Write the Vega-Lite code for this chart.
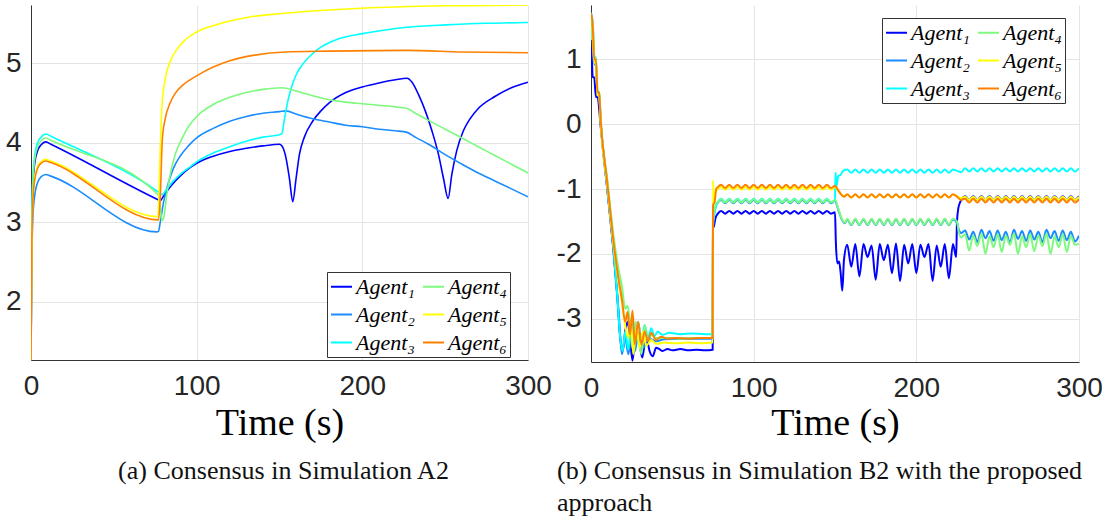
{
"$schema":"https://vega.github.io/schema/vega-lite/v6.json",
"background":"white",
"padding":{"left":5,"top":5,"right":5,"bottom":5},
"config":{
"view":{"stroke":null},
"axis":{"labelFont":"Liberation Sans","labelFontSize":28,"labelColor":"#262626","domainColor":"#333333","domainWidth":1,"gridColor":"#e4e4e4","gridWidth":1,"ticks":false,"titleFont":"Liberation Serif","titleFontSize":38,"titleFontWeight":"normal","titleColor":"#000000"},
"title":{"font":"Liberation Serif","fontSize":26,"fontWeight":"normal","color":"#111111"}
},
"datasets":{
"A":[
{"a":1,"t":0,"v":1.27},{"a":1,"t":0.5,"v":2.9},{"a":1,"t":1,"v":3.4},{"a":1,"t":2,"v":3.7},{"a":1,"t":4,"v":3.9},{"a":1,"t":6,"v":3.97},{"a":1,"t":9,"v":4.01},{"a":1,"t":12,"v":3.98},{"a":1,"t":77,"v":3.28},{"a":1,"t":78,"v":3.27},{"a":1,"t":80,"v":3.33},{"a":1,"t":85,"v":3.47},{"a":1,"t":90,"v":3.58},{"a":1,"t":95,"v":3.67},{"a":1,"t":100,"v":3.74},{"a":1,"t":110,"v":3.83},{"a":1,"t":120,"v":3.89},{"a":1,"t":130,"v":3.93},{"a":1,"t":140,"v":3.96},{"a":1,"t":150,"v":3.98},{"a":1,"t":152,"v":3.94},{"a":1,"t":154,"v":3.8},{"a":1,"t":156,"v":3.55},{"a":1,"t":158,"v":3.26},{"a":1,"t":160,"v":3.55},{"a":1,"t":162,"v":3.85},{"a":1,"t":165,"v":4.07},{"a":1,"t":170,"v":4.27},{"a":1,"t":175,"v":4.4},{"a":1,"t":180,"v":4.5},{"a":1,"t":190,"v":4.63},{"a":1,"t":200,"v":4.7},{"a":1,"t":210,"v":4.75},{"a":1,"t":220,"v":4.79},{"a":1,"t":227,"v":4.81},{"a":1,"t":230,"v":4.76},{"a":1,"t":234,"v":4.6},{"a":1,"t":238,"v":4.4},{"a":1,"t":242,"v":4.15},{"a":1,"t":246,"v":3.85},{"a":1,"t":249,"v":3.55},{"a":1,"t":251.8,"v":3.3},{"a":1,"t":254,"v":3.6},{"a":1,"t":257,"v":3.9},{"a":1,"t":261,"v":4.15},{"a":1,"t":265,"v":4.3},{"a":1,"t":270,"v":4.43},{"a":1,"t":280,"v":4.58},{"a":1,"t":290,"v":4.69},{"a":1,"t":300,"v":4.76},
{"a":2,"t":0,"v":1.27},{"a":2,"t":0.5,"v":2.5},{"a":2,"t":1,"v":3.0},{"a":2,"t":2,"v":3.3},{"a":2,"t":4,"v":3.5},{"a":2,"t":6,"v":3.57},{"a":2,"t":9,"v":3.6},{"a":2,"t":12,"v":3.58},{"a":2,"t":76,"v":2.88},{"a":2,"t":77,"v":2.89},{"a":2,"t":78,"v":3.0},{"a":2,"t":80,"v":3.25},{"a":2,"t":83,"v":3.5},{"a":2,"t":86,"v":3.68},{"a":2,"t":90,"v":3.83},{"a":2,"t":95,"v":3.96},{"a":2,"t":100,"v":4.06},{"a":2,"t":110,"v":4.18},{"a":2,"t":120,"v":4.27},{"a":2,"t":130,"v":4.33},{"a":2,"t":140,"v":4.37},{"a":2,"t":150,"v":4.39},{"a":2,"t":154,"v":4.4},{"a":2,"t":160,"v":4.36},{"a":2,"t":170,"v":4.3},{"a":2,"t":180,"v":4.26},{"a":2,"t":190,"v":4.22},{"a":2,"t":200,"v":4.2},{"a":2,"t":210,"v":4.17},{"a":2,"t":220,"v":4.15},{"a":2,"t":227,"v":4.13},{"a":2,"t":232,"v":4.07},{"a":2,"t":240,"v":3.98},{"a":2,"t":250,"v":3.85},{"a":2,"t":261,"v":3.72},{"a":2,"t":270,"v":3.62},{"a":2,"t":280,"v":3.52},{"a":2,"t":290,"v":3.42},{"a":2,"t":300,"v":3.32},
{"a":3,"t":0,"v":1.27},{"a":3,"t":0.5,"v":3.0},{"a":3,"t":1,"v":3.5},{"a":3,"t":2,"v":3.8},{"a":3,"t":4,"v":4.0},{"a":3,"t":6,"v":4.07},{"a":3,"t":9,"v":4.11},{"a":3,"t":12,"v":4.08},{"a":3,"t":77,"v":3.38},{"a":3,"t":79,"v":3.35},{"a":3,"t":82,"v":3.42},{"a":3,"t":86,"v":3.52},{"a":3,"t":90,"v":3.6},{"a":3,"t":95,"v":3.68},{"a":3,"t":100,"v":3.76},{"a":3,"t":110,"v":3.87},{"a":3,"t":120,"v":3.95},{"a":3,"t":132,"v":4.03},{"a":3,"t":140,"v":4.07},{"a":3,"t":150,"v":4.1},{"a":3,"t":151.5,"v":4.12},{"a":3,"t":153,"v":4.3},{"a":3,"t":155,"v":4.52},{"a":3,"t":157,"v":4.68},{"a":3,"t":160,"v":4.85},{"a":3,"t":164.5,"v":5.0},{"a":3,"t":170,"v":5.12},{"a":3,"t":175,"v":5.2},{"a":3,"t":185,"v":5.3},{"a":3,"t":200,"v":5.37},{"a":3,"t":215,"v":5.42},{"a":3,"t":227,"v":5.45},{"a":3,"t":250,"v":5.48},{"a":3,"t":275,"v":5.5},{"a":3,"t":300,"v":5.51},
{"a":4,"t":0,"v":1.27},{"a":4,"t":0.5,"v":2.9},{"a":4,"t":1,"v":3.45},{"a":4,"t":2,"v":3.75},{"a":4,"t":4,"v":3.95},{"a":4,"t":6,"v":4.02},{"a":4,"t":9,"v":4.06},{"a":4,"t":12,"v":4.03},{"a":4,"t":77,"v":3.34},{"a":4,"t":78,"v":3.2},{"a":4,"t":79,"v":3.02},{"a":4,"t":80,"v":3.05},{"a":4,"t":82,"v":3.35},{"a":4,"t":84,"v":3.6},{"a":4,"t":87,"v":3.85},{"a":4,"t":90,"v":4.0},{"a":4,"t":95,"v":4.2},{"a":4,"t":100,"v":4.33},{"a":4,"t":110,"v":4.48},{"a":4,"t":120,"v":4.57},{"a":4,"t":130,"v":4.63},{"a":4,"t":140,"v":4.67},{"a":4,"t":151.5,"v":4.69},{"a":4,"t":160,"v":4.65},{"a":4,"t":170,"v":4.59},{"a":4,"t":180,"v":4.54},{"a":4,"t":190,"v":4.51},{"a":4,"t":200,"v":4.49},{"a":4,"t":210,"v":4.47},{"a":4,"t":220,"v":4.45},{"a":4,"t":227,"v":4.43},{"a":4,"t":232,"v":4.37},{"a":4,"t":240,"v":4.28},{"a":4,"t":250,"v":4.17},{"a":4,"t":261,"v":4.05},{"a":4,"t":270,"v":3.95},{"a":4,"t":280,"v":3.84},{"a":4,"t":290,"v":3.73},{"a":4,"t":300,"v":3.62},
{"a":5,"t":0,"v":1.27},{"a":5,"t":0.5,"v":2.7},{"a":5,"t":1,"v":3.2},{"a":5,"t":2,"v":3.5},{"a":5,"t":4,"v":3.7},{"a":5,"t":6,"v":3.76},{"a":5,"t":9,"v":3.79},{"a":5,"t":12,"v":3.77},{"a":5,"t":76.5,"v":3.07},{"a":5,"t":77,"v":3.2},{"a":5,"t":78,"v":3.9},{"a":5,"t":79,"v":4.45},{"a":5,"t":81,"v":4.8},{"a":5,"t":84,"v":5.02},{"a":5,"t":88,"v":5.17},{"a":5,"t":92,"v":5.27},{"a":5,"t":100,"v":5.39},{"a":5,"t":110,"v":5.47},{"a":5,"t":120,"v":5.53},{"a":5,"t":132,"v":5.58},{"a":5,"t":150,"v":5.62},{"a":5,"t":175,"v":5.66},{"a":5,"t":200,"v":5.69},{"a":5,"t":250,"v":5.72},{"a":5,"t":300,"v":5.73},
{"a":6,"t":0,"v":1.27},{"a":6,"t":0.5,"v":2.7},{"a":6,"t":1,"v":3.2},{"a":6,"t":2,"v":3.5},{"a":6,"t":4,"v":3.68},{"a":6,"t":6,"v":3.74},{"a":6,"t":9,"v":3.77},{"a":6,"t":12,"v":3.75},{"a":6,"t":77,"v":3.03},{"a":6,"t":78,"v":3.3},{"a":6,"t":79.3,"v":4.05},{"a":6,"t":81,"v":4.3},{"a":6,"t":84,"v":4.5},{"a":6,"t":87,"v":4.62},{"a":6,"t":92,"v":4.73},{"a":6,"t":100,"v":4.84},{"a":6,"t":110,"v":4.95},{"a":6,"t":120,"v":5.03},{"a":6,"t":135,"v":5.1},{"a":6,"t":153.7,"v":5.14},{"a":6,"t":180,"v":5.15},{"a":6,"t":227,"v":5.16},{"a":6,"t":260,"v":5.14},{"a":6,"t":300,"v":5.13}
],
"B":[
{"a":1,"t":0,"v":1.2},{"a":1,"t":0.7,"v":0.9},{"a":1,"t":1,"v":0.73},{"a":1,"t":2,"v":0.72},{"a":1,"t":3,"v":0.42},{"a":1,"t":4,"v":0.42},{"a":1,"t":6,"v":-0.05},{"a":1,"t":10,"v":-1.0},{"a":1,"t":14,"v":-2.0},{"a":1,"t":16,"v":-2.6},{"a":1,"t":18,"v":-3.3},{"a":1,"t":19.5,"v":-3.5},{"a":1,"t":21,"v":-3.2},{"a":1,"t":22.5,"v":-3.05},{"a":1,"t":24,"v":-3.3},{"a":1,"t":25.5,"v":-3.65},{"a":1,"t":27,"v":-3.3},{"a":1,"t":28.5,"v":-3.2},{"a":1,"t":30,"v":-3.4},{"a":1,"t":31.5,"v":-3.6},{"a":1,"t":33,"v":-3.4},{"a":1,"t":34.5,"v":-3.35},{"a":1,"t":36,"v":-3.5},{"a":1,"t":38,"v":-3.58},{"a":1,"t":40,"v":-3.45},{"a":1,"t":42,"v":-3.47},{"a":1,"t":44,"v":-3.5},{"a":1,"t":47,"v":-3.47},{"a":1,"t":50,"v":-3.49},{"a":1,"t":55,"v":-3.47},{"a":1,"t":60,"v":-3.49},{"a":1,"t":65,"v":-3.48},{"a":1,"t":70,"v":-3.49},{"a":1,"t":74.8,"v":-3.48},{"a":1,"t":75,"v":-1.6},{"a":1,"t":75.5,"v":-1.58},{"a":1,"t":76.5,"v":-1.45},{"a":1,"t":78,"v":-1.38},
{"a":1,"t":80,"v":-1.34},{"a":1,"t":82.5,"v":-1.38},{"a":1,"t":85,"v":-1.34},{"a":1,"t":87.5,"v":-1.38},{"a":1,"t":90,"v":-1.34},{"a":1,"t":92.5,"v":-1.38},{"a":1,"t":95,"v":-1.34},{"a":1,"t":97.5,"v":-1.38},{"a":1,"t":100,"v":-1.34},{"a":1,"t":102.5,"v":-1.38},{"a":1,"t":105,"v":-1.34},{"a":1,"t":107.5,"v":-1.38},{"a":1,"t":110,"v":-1.34},{"a":1,"t":112.5,"v":-1.38},{"a":1,"t":115,"v":-1.34},{"a":1,"t":117.5,"v":-1.38},{"a":1,"t":120,"v":-1.34},{"a":1,"t":122.5,"v":-1.38},{"a":1,"t":125,"v":-1.34},{"a":1,"t":127.5,"v":-1.38},{"a":1,"t":130,"v":-1.34},{"a":1,"t":132.5,"v":-1.38},{"a":1,"t":135,"v":-1.34},{"a":1,"t":137.5,"v":-1.38},{"a":1,"t":140,"v":-1.34},{"a":1,"t":142.5,"v":-1.38},{"a":1,"t":145,"v":-1.34},{"a":1,"t":147.5,"v":-1.38},
{"a":1,"t":150,"v":-1.36},{"a":1,"t":150.5,"v":-1.8},{"a":1,"t":151.5,"v":-2.15},{"a":1,"t":152.5,"v":-2.12},{"a":1,"t":153.5,"v":-2.3},{"a":1,"t":154.5,"v":-2.57},{"a":1,"t":155.5,"v":-2.1},
{"a":1,"t":157.5,"v":-1.86},{"a":1,"t":160,"v":-2.2},{"a":1,"t":162.5,"v":-1.85},{"a":1,"t":165,"v":-2.35},{"a":1,"t":167.5,"v":-1.85},{"a":1,"t":170,"v":-2.05},{"a":1,"t":172.5,"v":-1.87},{"a":1,"t":175,"v":-2.4},{"a":1,"t":177.5,"v":-1.85},{"a":1,"t":180,"v":-2.1},{"a":1,"t":182.5,"v":-1.86},{"a":1,"t":185,"v":-2.3},{"a":1,"t":187.5,"v":-1.84},{"a":1,"t":190,"v":-2.42},{"a":1,"t":192.5,"v":-1.86},{"a":1,"t":195,"v":-2.15},{"a":1,"t":197.5,"v":-1.85},{"a":1,"t":200,"v":-2.3},{"a":1,"t":202.5,"v":-1.86},{"a":1,"t":205,"v":-2.05},{"a":1,"t":207.5,"v":-1.85},{"a":1,"t":210,"v":-2.42},{"a":1,"t":212.5,"v":-1.87},{"a":1,"t":215,"v":-2.2},{"a":1,"t":217.5,"v":-1.85},{"a":1,"t":220,"v":-2.38},{"a":1,"t":222.5,"v":-1.85},{"a":1,"t":224.5,"v":-2.05},{"a":1,"t":225,"v":-1.5},{"a":1,"t":225.8,"v":-1.3},{"a":1,"t":227,"v":-1.2},
{"a":1,"t":230,"v":-1.11},{"a":1,"t":232.5,"v":-1.17},{"a":1,"t":235,"v":-1.11},{"a":1,"t":237.5,"v":-1.17},{"a":1,"t":240,"v":-1.11},{"a":1,"t":242.5,"v":-1.17},{"a":1,"t":245,"v":-1.11},{"a":1,"t":247.5,"v":-1.17},{"a":1,"t":250,"v":-1.11},{"a":1,"t":252.5,"v":-1.17},{"a":1,"t":255,"v":-1.11},{"a":1,"t":257.5,"v":-1.17},{"a":1,"t":260,"v":-1.11},{"a":1,"t":262.5,"v":-1.17},{"a":1,"t":265,"v":-1.11},{"a":1,"t":267.5,"v":-1.17},{"a":1,"t":270,"v":-1.11},{"a":1,"t":272.5,"v":-1.17},{"a":1,"t":275,"v":-1.11},{"a":1,"t":277.5,"v":-1.17},{"a":1,"t":280,"v":-1.11},{"a":1,"t":282.5,"v":-1.17},{"a":1,"t":285,"v":-1.11},{"a":1,"t":287.5,"v":-1.17},{"a":1,"t":290,"v":-1.11},{"a":1,"t":292.5,"v":-1.17},{"a":1,"t":295,"v":-1.11},{"a":1,"t":297.5,"v":-1.17},{"a":1,"t":300,"v":-1.11},
{"a":2,"t":0,"v":1.5},{"a":2,"t":1,"v":1.3},{"a":2,"t":2,"v":0.95},{"a":2,"t":3,"v":0.9},{"a":2,"t":4,"v":0.45},{"a":2,"t":5,"v":0.42},{"a":2,"t":6,"v":0.0},{"a":2,"t":10,"v":-1.0},{"a":2,"t":14,"v":-2.0},{"a":2,"t":17,"v":-2.9},{"a":2,"t":19,"v":-3.55},{"a":2,"t":21,"v":-3.3},{"a":2,"t":23,"v":-3.55},{"a":2,"t":25,"v":-3.2},{"a":2,"t":27,"v":-3.5},{"a":2,"t":29,"v":-3.25},{"a":2,"t":32,"v":-3.45},{"a":2,"t":35,"v":-3.3},{"a":2,"t":40,"v":-3.35},{"a":2,"t":45,"v":-3.32},{"a":2,"t":55,"v":-3.31},{"a":2,"t":65,"v":-3.31},{"a":2,"t":74.8,"v":-3.31},{"a":2,"t":75,"v":-1.6},{"a":2,"t":76,"v":-1.35},{"a":2,"t":77,"v":-1.25},{"a":2,"t":78,"v":-1.21},
{"a":2,"t":80,"v":-1.17},{"a":2,"t":82.5,"v":-1.22},{"a":2,"t":85,"v":-1.17},{"a":2,"t":87.5,"v":-1.22},{"a":2,"t":90,"v":-1.17},{"a":2,"t":92.5,"v":-1.22},{"a":2,"t":95,"v":-1.17},{"a":2,"t":97.5,"v":-1.22},{"a":2,"t":100,"v":-1.17},{"a":2,"t":102.5,"v":-1.22},{"a":2,"t":105,"v":-1.17},{"a":2,"t":107.5,"v":-1.22},{"a":2,"t":110,"v":-1.17},{"a":2,"t":112.5,"v":-1.22},{"a":2,"t":115,"v":-1.17},{"a":2,"t":117.5,"v":-1.22},{"a":2,"t":120,"v":-1.17},{"a":2,"t":122.5,"v":-1.22},{"a":2,"t":125,"v":-1.17},{"a":2,"t":127.5,"v":-1.22},{"a":2,"t":130,"v":-1.17},{"a":2,"t":132.5,"v":-1.22},{"a":2,"t":135,"v":-1.17},{"a":2,"t":137.5,"v":-1.22},{"a":2,"t":140,"v":-1.17},{"a":2,"t":142.5,"v":-1.22},{"a":2,"t":145,"v":-1.17},{"a":2,"t":147.5,"v":-1.22},
{"a":2,"t":150,"v":-1.18},{"a":2,"t":152,"v":-1.32},{"a":2,"t":154,"v":-1.46},{"a":2,"t":156,"v":-1.53},
{"a":2,"t":157.5,"v":-1.47},{"a":2,"t":160,"v":-1.56},{"a":2,"t":162.5,"v":-1.47},{"a":2,"t":165,"v":-1.56},{"a":2,"t":167.5,"v":-1.47},{"a":2,"t":170,"v":-1.56},{"a":2,"t":172.5,"v":-1.47},{"a":2,"t":175,"v":-1.56},{"a":2,"t":177.5,"v":-1.47},{"a":2,"t":180,"v":-1.56},{"a":2,"t":182.5,"v":-1.47},{"a":2,"t":185,"v":-1.56},{"a":2,"t":187.5,"v":-1.47},{"a":2,"t":190,"v":-1.56},{"a":2,"t":192.5,"v":-1.47},{"a":2,"t":195,"v":-1.56},{"a":2,"t":197.5,"v":-1.47},{"a":2,"t":200,"v":-1.56},{"a":2,"t":202.5,"v":-1.47},{"a":2,"t":205,"v":-1.56},{"a":2,"t":207.5,"v":-1.47},{"a":2,"t":210,"v":-1.56},{"a":2,"t":212.5,"v":-1.47},{"a":2,"t":215,"v":-1.56},{"a":2,"t":217.5,"v":-1.47},{"a":2,"t":220,"v":-1.56},{"a":2,"t":222.5,"v":-1.47},{"a":2,"t":225,"v":-1.52},{"a":2,"t":226,"v":-1.62},{"a":2,"t":227.5,"v":-1.68},
{"a":2,"t":230,"v":-1.64},{"a":2,"t":232.5,"v":-1.78},{"a":2,"t":235,"v":-1.66},{"a":2,"t":237.5,"v":-1.82},{"a":2,"t":240,"v":-1.63},{"a":2,"t":242.5,"v":-1.76},{"a":2,"t":245,"v":-1.65},{"a":2,"t":247.5,"v":-1.8},{"a":2,"t":250,"v":-1.64},{"a":2,"t":252.5,"v":-1.79},{"a":2,"t":255,"v":-1.66},{"a":2,"t":257.5,"v":-1.83},{"a":2,"t":260,"v":-1.63},{"a":2,"t":262.5,"v":-1.77},{"a":2,"t":265,"v":-1.65},{"a":2,"t":267.5,"v":-1.8},{"a":2,"t":270,"v":-1.64},{"a":2,"t":272.5,"v":-1.78},{"a":2,"t":275,"v":-1.66},{"a":2,"t":277.5,"v":-1.82},{"a":2,"t":280,"v":-1.63},{"a":2,"t":282.5,"v":-1.76},{"a":2,"t":285,"v":-1.65},{"a":2,"t":287.5,"v":-1.8},{"a":2,"t":290,"v":-1.64},{"a":2,"t":292.5,"v":-1.79},{"a":2,"t":295,"v":-1.66},{"a":2,"t":297.5,"v":-1.81},{"a":2,"t":300,"v":-1.72},
{"a":3,"t":0,"v":1.72},{"a":3,"t":1,"v":1.6},{"a":3,"t":2,"v":1.05},{"a":3,"t":3,"v":1.02},{"a":3,"t":4,"v":0.5},{"a":3,"t":5,"v":0.5},{"a":3,"t":6,"v":0.05},{"a":3,"t":10,"v":-0.95},{"a":3,"t":14,"v":-1.95},{"a":3,"t":16,"v":-2.6},{"a":3,"t":18,"v":-3.3},{"a":3,"t":19.5,"v":-3.5},{"a":3,"t":21,"v":-3.2},{"a":3,"t":23,"v":-3.48},{"a":3,"t":25,"v":-3.0},{"a":3,"t":27,"v":-3.4},{"a":3,"t":29,"v":-3.05},{"a":3,"t":31,"v":-3.35},{"a":3,"t":33,"v":-3.1},{"a":3,"t":35,"v":-3.3},{"a":3,"t":37,"v":-3.15},{"a":3,"t":39,"v":-3.27},{"a":3,"t":41,"v":-3.2},{"a":3,"t":44,"v":-3.25},{"a":3,"t":48,"v":-3.22},{"a":3,"t":55,"v":-3.24},{"a":3,"t":62,"v":-3.23},{"a":3,"t":70,"v":-3.24},{"a":3,"t":74.8,"v":-3.24},{"a":3,"t":75,"v":-1.5},{"a":3,"t":76,"v":-1.35},{"a":3,"t":77,"v":-1.25},{"a":3,"t":78,"v":-1.2},
{"a":3,"t":80,"v":-1.15},{"a":3,"t":82.5,"v":-1.2},{"a":3,"t":85,"v":-1.15},{"a":3,"t":87.5,"v":-1.2},{"a":3,"t":90,"v":-1.15},{"a":3,"t":92.5,"v":-1.2},{"a":3,"t":95,"v":-1.15},{"a":3,"t":97.5,"v":-1.2},{"a":3,"t":100,"v":-1.15},{"a":3,"t":102.5,"v":-1.2},{"a":3,"t":105,"v":-1.15},{"a":3,"t":107.5,"v":-1.2},{"a":3,"t":110,"v":-1.15},{"a":3,"t":112.5,"v":-1.2},{"a":3,"t":115,"v":-1.15},{"a":3,"t":117.5,"v":-1.2},{"a":3,"t":120,"v":-1.15},{"a":3,"t":122.5,"v":-1.2},{"a":3,"t":125,"v":-1.15},{"a":3,"t":127.5,"v":-1.2},{"a":3,"t":130,"v":-1.15},{"a":3,"t":132.5,"v":-1.2},{"a":3,"t":135,"v":-1.15},{"a":3,"t":137.5,"v":-1.2},{"a":3,"t":140,"v":-1.15},{"a":3,"t":142.5,"v":-1.2},{"a":3,"t":145,"v":-1.15},{"a":3,"t":147.5,"v":-1.2},
{"a":3,"t":150,"v":-1.17},{"a":3,"t":150.3,"v":-0.75},{"a":3,"t":151,"v":-0.95},{"a":3,"t":152,"v":-0.8},{"a":3,"t":153.5,"v":-0.78},{"a":3,"t":155,"v":-0.72},
{"a":3,"t":157.5,"v":-0.7},{"a":3,"t":160,"v":-0.75},{"a":3,"t":162.5,"v":-0.7},{"a":3,"t":165,"v":-0.75},{"a":3,"t":167.5,"v":-0.7},{"a":3,"t":170,"v":-0.75},{"a":3,"t":172.5,"v":-0.7},{"a":3,"t":175,"v":-0.75},{"a":3,"t":177.5,"v":-0.7},{"a":3,"t":180,"v":-0.75},{"a":3,"t":182.5,"v":-0.7},{"a":3,"t":185,"v":-0.75},{"a":3,"t":187.5,"v":-0.7},{"a":3,"t":190,"v":-0.75},{"a":3,"t":192.5,"v":-0.7},{"a":3,"t":195,"v":-0.75},{"a":3,"t":197.5,"v":-0.7},{"a":3,"t":200,"v":-0.75},{"a":3,"t":202.5,"v":-0.7},{"a":3,"t":205,"v":-0.75},{"a":3,"t":207.5,"v":-0.7},{"a":3,"t":210,"v":-0.75},{"a":3,"t":212.5,"v":-0.7},{"a":3,"t":215,"v":-0.75},{"a":3,"t":217.5,"v":-0.7},{"a":3,"t":220,"v":-0.75},{"a":3,"t":222.5,"v":-0.7},{"a":3,"t":225,"v":-0.72},{"a":3,"t":227.5,"v":-0.74},
{"a":3,"t":230,"v":-0.68},{"a":3,"t":232.5,"v":-0.73},{"a":3,"t":235,"v":-0.68},{"a":3,"t":237.5,"v":-0.73},{"a":3,"t":240,"v":-0.68},{"a":3,"t":242.5,"v":-0.73},{"a":3,"t":245,"v":-0.68},{"a":3,"t":247.5,"v":-0.73},{"a":3,"t":250,"v":-0.68},{"a":3,"t":252.5,"v":-0.73},{"a":3,"t":255,"v":-0.68},{"a":3,"t":257.5,"v":-0.73},{"a":3,"t":260,"v":-0.68},{"a":3,"t":262.5,"v":-0.73},{"a":3,"t":265,"v":-0.68},{"a":3,"t":267.5,"v":-0.73},{"a":3,"t":270,"v":-0.68},{"a":3,"t":272.5,"v":-0.73},{"a":3,"t":275,"v":-0.68},{"a":3,"t":277.5,"v":-0.73},{"a":3,"t":280,"v":-0.68},{"a":3,"t":282.5,"v":-0.73},{"a":3,"t":285,"v":-0.68},{"a":3,"t":287.5,"v":-0.73},{"a":3,"t":290,"v":-0.68},{"a":3,"t":292.5,"v":-0.73},{"a":3,"t":295,"v":-0.68},{"a":3,"t":297.5,"v":-0.73},{"a":3,"t":300,"v":-0.68},
{"a":4,"t":0,"v":1.3},{"a":4,"t":1,"v":1.55},{"a":4,"t":2,"v":1.05},{"a":4,"t":3,"v":1.0},{"a":4,"t":4,"v":0.5},{"a":4,"t":5,"v":0.5},{"a":4,"t":6,"v":0.05},{"a":4,"t":10,"v":-0.85},{"a":4,"t":14,"v":-1.75},{"a":4,"t":17,"v":-2.25},{"a":4,"t":19,"v":-2.5},{"a":4,"t":21,"v":-2.85},{"a":4,"t":22.5,"v":-2.8},{"a":4,"t":24,"v":-3.1},{"a":4,"t":26,"v":-3.5},{"a":4,"t":27.5,"v":-3.05},{"a":4,"t":29,"v":-3.3},{"a":4,"t":31,"v":-3.55},{"a":4,"t":33,"v":-3.1},{"a":4,"t":35,"v":-3.35},{"a":4,"t":37,"v":-3.25},{"a":4,"t":40,"v":-3.3},{"a":4,"t":45,"v":-3.3},{"a":4,"t":55,"v":-3.31},{"a":4,"t":65,"v":-3.3},{"a":4,"t":74.8,"v":-3.3},{"a":4,"t":75,"v":-1.55},{"a":4,"t":76,"v":-1.3},{"a":4,"t":77,"v":-1.22},{"a":4,"t":78,"v":-1.2},
{"a":4,"t":80,"v":-1.16},{"a":4,"t":82.5,"v":-1.21},{"a":4,"t":85,"v":-1.16},{"a":4,"t":87.5,"v":-1.21},{"a":4,"t":90,"v":-1.16},{"a":4,"t":92.5,"v":-1.21},{"a":4,"t":95,"v":-1.16},{"a":4,"t":97.5,"v":-1.21},{"a":4,"t":100,"v":-1.16},{"a":4,"t":102.5,"v":-1.21},{"a":4,"t":105,"v":-1.16},{"a":4,"t":107.5,"v":-1.21},{"a":4,"t":110,"v":-1.16},{"a":4,"t":112.5,"v":-1.21},{"a":4,"t":115,"v":-1.16},{"a":4,"t":117.5,"v":-1.21},{"a":4,"t":120,"v":-1.16},{"a":4,"t":122.5,"v":-1.21},{"a":4,"t":125,"v":-1.16},{"a":4,"t":127.5,"v":-1.21},{"a":4,"t":130,"v":-1.16},{"a":4,"t":132.5,"v":-1.21},{"a":4,"t":135,"v":-1.16},{"a":4,"t":137.5,"v":-1.21},{"a":4,"t":140,"v":-1.16},{"a":4,"t":142.5,"v":-1.21},{"a":4,"t":145,"v":-1.16},{"a":4,"t":147.5,"v":-1.21},
{"a":4,"t":150,"v":-1.17},{"a":4,"t":152,"v":-1.3},{"a":4,"t":154,"v":-1.45},{"a":4,"t":156,"v":-1.52},
{"a":4,"t":157.5,"v":-1.46},{"a":4,"t":160,"v":-1.55},{"a":4,"t":162.5,"v":-1.46},{"a":4,"t":165,"v":-1.55},{"a":4,"t":167.5,"v":-1.46},{"a":4,"t":170,"v":-1.55},{"a":4,"t":172.5,"v":-1.46},{"a":4,"t":175,"v":-1.55},{"a":4,"t":177.5,"v":-1.46},{"a":4,"t":180,"v":-1.55},{"a":4,"t":182.5,"v":-1.46},{"a":4,"t":185,"v":-1.55},{"a":4,"t":187.5,"v":-1.46},{"a":4,"t":190,"v":-1.55},{"a":4,"t":192.5,"v":-1.46},{"a":4,"t":195,"v":-1.55},{"a":4,"t":197.5,"v":-1.46},{"a":4,"t":200,"v":-1.55},{"a":4,"t":202.5,"v":-1.46},{"a":4,"t":205,"v":-1.55},{"a":4,"t":207.5,"v":-1.46},{"a":4,"t":210,"v":-1.55},{"a":4,"t":212.5,"v":-1.46},{"a":4,"t":215,"v":-1.55},{"a":4,"t":217.5,"v":-1.46},{"a":4,"t":220,"v":-1.55},{"a":4,"t":222.5,"v":-1.46},{"a":4,"t":225,"v":-1.5},{"a":4,"t":226,"v":-1.65},{"a":4,"t":227.5,"v":-1.75},
{"a":4,"t":230,"v":-1.7},{"a":4,"t":232.5,"v":-1.95},{"a":4,"t":235,"v":-1.72},{"a":4,"t":237.5,"v":-1.88},{"a":4,"t":240,"v":-1.69},{"a":4,"t":242.5,"v":-2.0},{"a":4,"t":245,"v":-1.73},{"a":4,"t":247.5,"v":-1.9},{"a":4,"t":250,"v":-1.7},{"a":4,"t":252.5,"v":-1.97},{"a":4,"t":255,"v":-1.72},{"a":4,"t":257.5,"v":-1.86},{"a":4,"t":260,"v":-1.69},{"a":4,"t":262.5,"v":-2.0},{"a":4,"t":265,"v":-1.73},{"a":4,"t":267.5,"v":-1.9},{"a":4,"t":270,"v":-1.7},{"a":4,"t":272.5,"v":-1.96},{"a":4,"t":275,"v":-1.72},{"a":4,"t":277.5,"v":-1.88},{"a":4,"t":280,"v":-1.69},{"a":4,"t":282.5,"v":-2.0},{"a":4,"t":285,"v":-1.73},{"a":4,"t":287.5,"v":-1.9},{"a":4,"t":290,"v":-1.7},{"a":4,"t":292.5,"v":-1.97},{"a":4,"t":295,"v":-1.72},{"a":4,"t":297.5,"v":-1.86},{"a":4,"t":300,"v":-1.85},
{"a":5,"t":0,"v":1.68},{"a":5,"t":1,"v":1.5},{"a":5,"t":2,"v":0.95},{"a":5,"t":3,"v":0.95},{"a":5,"t":4,"v":0.45},{"a":5,"t":5,"v":0.45},{"a":5,"t":6,"v":0.0},{"a":5,"t":10,"v":-0.95},{"a":5,"t":14,"v":-1.9},{"a":5,"t":17,"v":-2.45},{"a":5,"t":19,"v":-2.75},{"a":5,"t":21,"v":-3.1},{"a":5,"t":23,"v":-3.3},{"a":5,"t":24.5,"v":-3.05},{"a":5,"t":26,"v":-3.55},{"a":5,"t":28,"v":-3.15},{"a":5,"t":30,"v":-3.45},{"a":5,"t":32,"v":-3.2},{"a":5,"t":34,"v":-3.42},{"a":5,"t":37,"v":-3.33},{"a":5,"t":40,"v":-3.39},{"a":5,"t":45,"v":-3.37},{"a":5,"t":52,"v":-3.38},{"a":5,"t":60,"v":-3.37},{"a":5,"t":68,"v":-3.38},{"a":5,"t":74.8,"v":-3.37},{"a":5,"t":75,"v":-0.87},{"a":5,"t":75.5,"v":-1.15},{"a":5,"t":76.5,"v":-1.05},{"a":5,"t":78,"v":-1.0},
{"a":5,"t":80,"v":-0.97},{"a":5,"t":82.5,"v":-1.01},{"a":5,"t":85,"v":-0.97},{"a":5,"t":87.5,"v":-1.01},{"a":5,"t":90,"v":-0.97},{"a":5,"t":92.5,"v":-1.01},{"a":5,"t":95,"v":-0.97},{"a":5,"t":97.5,"v":-1.01},{"a":5,"t":100,"v":-0.97},{"a":5,"t":102.5,"v":-1.01},{"a":5,"t":105,"v":-0.97},{"a":5,"t":107.5,"v":-1.01},{"a":5,"t":110,"v":-0.97},{"a":5,"t":112.5,"v":-1.01},{"a":5,"t":115,"v":-0.97},{"a":5,"t":117.5,"v":-1.01},{"a":5,"t":120,"v":-0.97},{"a":5,"t":122.5,"v":-1.01},{"a":5,"t":125,"v":-0.97},{"a":5,"t":127.5,"v":-1.01},{"a":5,"t":130,"v":-0.97},{"a":5,"t":132.5,"v":-1.01},{"a":5,"t":135,"v":-0.97},{"a":5,"t":137.5,"v":-1.01},{"a":5,"t":140,"v":-0.97},{"a":5,"t":142.5,"v":-1.01},{"a":5,"t":145,"v":-0.97},{"a":5,"t":147.5,"v":-1.01},
{"a":5,"t":150,"v":-0.97},{"a":5,"t":152,"v":-1.03},{"a":5,"t":154,"v":-1.09},{"a":5,"t":155.5,"v":-1.11},
{"a":5,"t":157.5,"v":-1.09},{"a":5,"t":160,"v":-1.13},{"a":5,"t":162.5,"v":-1.09},{"a":5,"t":165,"v":-1.13},{"a":5,"t":167.5,"v":-1.09},{"a":5,"t":170,"v":-1.13},{"a":5,"t":172.5,"v":-1.09},{"a":5,"t":175,"v":-1.13},{"a":5,"t":177.5,"v":-1.09},{"a":5,"t":180,"v":-1.13},{"a":5,"t":182.5,"v":-1.09},{"a":5,"t":185,"v":-1.13},{"a":5,"t":187.5,"v":-1.09},{"a":5,"t":190,"v":-1.13},{"a":5,"t":192.5,"v":-1.09},{"a":5,"t":195,"v":-1.13},{"a":5,"t":197.5,"v":-1.09},{"a":5,"t":200,"v":-1.13},{"a":5,"t":202.5,"v":-1.09},{"a":5,"t":205,"v":-1.13},{"a":5,"t":207.5,"v":-1.09},{"a":5,"t":210,"v":-1.13},{"a":5,"t":212.5,"v":-1.09},{"a":5,"t":215,"v":-1.13},{"a":5,"t":217.5,"v":-1.09},{"a":5,"t":220,"v":-1.13},{"a":5,"t":222.5,"v":-1.09},{"a":5,"t":225,"v":-1.11},{"a":5,"t":227.5,"v":-1.14},
{"a":5,"t":230,"v":-1.12},{"a":5,"t":232.5,"v":-1.17},{"a":5,"t":235,"v":-1.12},{"a":5,"t":237.5,"v":-1.17},{"a":5,"t":240,"v":-1.12},{"a":5,"t":242.5,"v":-1.17},{"a":5,"t":245,"v":-1.12},{"a":5,"t":247.5,"v":-1.17},{"a":5,"t":250,"v":-1.12},{"a":5,"t":252.5,"v":-1.17},{"a":5,"t":255,"v":-1.12},{"a":5,"t":257.5,"v":-1.17},{"a":5,"t":260,"v":-1.12},{"a":5,"t":262.5,"v":-1.17},{"a":5,"t":265,"v":-1.12},{"a":5,"t":267.5,"v":-1.17},{"a":5,"t":270,"v":-1.12},{"a":5,"t":272.5,"v":-1.17},{"a":5,"t":275,"v":-1.12},{"a":5,"t":277.5,"v":-1.17},{"a":5,"t":280,"v":-1.12},{"a":5,"t":282.5,"v":-1.17},{"a":5,"t":285,"v":-1.12},{"a":5,"t":287.5,"v":-1.17},{"a":5,"t":290,"v":-1.12},{"a":5,"t":292.5,"v":-1.17},{"a":5,"t":295,"v":-1.12},{"a":5,"t":297.5,"v":-1.17},{"a":5,"t":300,"v":-1.12},
{"a":6,"t":0,"v":1.71},{"a":6,"t":1,"v":1.55},{"a":6,"t":2,"v":1.0},{"a":6,"t":3,"v":1.0},{"a":6,"t":4,"v":0.5},{"a":6,"t":5,"v":0.48},{"a":6,"t":6,"v":0.05},{"a":6,"t":10,"v":-0.9},{"a":6,"t":14,"v":-1.85},{"a":6,"t":17,"v":-2.4},{"a":6,"t":19,"v":-2.7},{"a":6,"t":21,"v":-3.05},{"a":6,"t":22.5,"v":-2.9},{"a":6,"t":24,"v":-3.25},{"a":6,"t":25.5,"v":-2.88},{"a":6,"t":27,"v":-3.4},{"a":6,"t":29,"v":-3.05},{"a":6,"t":31,"v":-3.4},{"a":6,"t":33,"v":-3.2},{"a":6,"t":35,"v":-3.35},{"a":6,"t":37,"v":-3.22},{"a":6,"t":40,"v":-3.33},{"a":6,"t":43,"v":-3.28},{"a":6,"t":47,"v":-3.31},{"a":6,"t":52,"v":-3.3},{"a":6,"t":60,"v":-3.31},{"a":6,"t":68,"v":-3.3},{"a":6,"t":74.8,"v":-3.3},{"a":6,"t":75,"v":-1.25},{"a":6,"t":76,"v":-1.2},{"a":6,"t":77,"v":-1.0},{"a":6,"t":78,"v":-0.97},
{"a":6,"t":80,"v":-0.935},{"a":6,"t":82.5,"v":-0.985},{"a":6,"t":85,"v":-0.935},{"a":6,"t":87.5,"v":-0.985},{"a":6,"t":90,"v":-0.935},{"a":6,"t":92.5,"v":-0.985},{"a":6,"t":95,"v":-0.935},{"a":6,"t":97.5,"v":-0.985},{"a":6,"t":100,"v":-0.935},{"a":6,"t":102.5,"v":-0.985},{"a":6,"t":105,"v":-0.935},{"a":6,"t":107.5,"v":-0.985},{"a":6,"t":110,"v":-0.935},{"a":6,"t":112.5,"v":-0.985},{"a":6,"t":115,"v":-0.935},{"a":6,"t":117.5,"v":-0.985},{"a":6,"t":120,"v":-0.935},{"a":6,"t":122.5,"v":-0.985},{"a":6,"t":125,"v":-0.935},{"a":6,"t":127.5,"v":-0.985},{"a":6,"t":130,"v":-0.935},{"a":6,"t":132.5,"v":-0.985},{"a":6,"t":135,"v":-0.935},{"a":6,"t":137.5,"v":-0.985},{"a":6,"t":140,"v":-0.935},{"a":6,"t":142.5,"v":-0.985},{"a":6,"t":145,"v":-0.935},{"a":6,"t":147.5,"v":-0.985},
{"a":6,"t":150,"v":-0.95},{"a":6,"t":152,"v":-1.02},{"a":6,"t":154,"v":-1.09},{"a":6,"t":155.5,"v":-1.12},
{"a":6,"t":157.5,"v":-1.08},{"a":6,"t":160,"v":-1.13},{"a":6,"t":162.5,"v":-1.08},{"a":6,"t":165,"v":-1.13},{"a":6,"t":167.5,"v":-1.08},{"a":6,"t":170,"v":-1.13},{"a":6,"t":172.5,"v":-1.08},{"a":6,"t":175,"v":-1.13},{"a":6,"t":177.5,"v":-1.08},{"a":6,"t":180,"v":-1.13},{"a":6,"t":182.5,"v":-1.08},{"a":6,"t":185,"v":-1.13},{"a":6,"t":187.5,"v":-1.08},{"a":6,"t":190,"v":-1.13},{"a":6,"t":192.5,"v":-1.08},{"a":6,"t":195,"v":-1.13},{"a":6,"t":197.5,"v":-1.08},{"a":6,"t":200,"v":-1.13},{"a":6,"t":202.5,"v":-1.08},{"a":6,"t":205,"v":-1.13},{"a":6,"t":207.5,"v":-1.08},{"a":6,"t":210,"v":-1.13},{"a":6,"t":212.5,"v":-1.08},{"a":6,"t":215,"v":-1.13},{"a":6,"t":217.5,"v":-1.08},{"a":6,"t":220,"v":-1.13},{"a":6,"t":222.5,"v":-1.08},{"a":6,"t":225,"v":-1.12},{"a":6,"t":227.5,"v":-1.17},
{"a":6,"t":230,"v":-1.15},{"a":6,"t":232.5,"v":-1.21},{"a":6,"t":235,"v":-1.15},{"a":6,"t":237.5,"v":-1.21},{"a":6,"t":240,"v":-1.15},{"a":6,"t":242.5,"v":-1.21},{"a":6,"t":245,"v":-1.15},{"a":6,"t":247.5,"v":-1.21},{"a":6,"t":250,"v":-1.15},{"a":6,"t":252.5,"v":-1.21},{"a":6,"t":255,"v":-1.15},{"a":6,"t":257.5,"v":-1.21},{"a":6,"t":260,"v":-1.15},{"a":6,"t":262.5,"v":-1.21},{"a":6,"t":265,"v":-1.15},{"a":6,"t":267.5,"v":-1.21},{"a":6,"t":270,"v":-1.15},{"a":6,"t":272.5,"v":-1.21},{"a":6,"t":275,"v":-1.15},{"a":6,"t":277.5,"v":-1.21},{"a":6,"t":280,"v":-1.15},{"a":6,"t":282.5,"v":-1.21},{"a":6,"t":285,"v":-1.15},{"a":6,"t":287.5,"v":-1.21},{"a":6,"t":290,"v":-1.15},{"a":6,"t":292.5,"v":-1.21},{"a":6,"t":295,"v":-1.15},{"a":6,"t":297.5,"v":-1.21},{"a":6,"t":300,"v":-1.16}
]
},
"spacing":4,
"resolve":{"legend":{"color":"independent"},"scale":{"color":"independent"}},
"hconcat":[
{
"width":497,"height":355,
"data":{"name":"A"},
"title":{"text":"(a) Consensus in Simulation A2","orient":"bottom","anchor":"middle","offset":16,"dx":4},
"mark":{"type":"line","strokeWidth":1.6,"clip":true,"interpolate":"monotone"},
"encoding":{
"x":{"field":"t","type":"quantitative","scale":{"domain":[0,300],"nice":false},"axis":{"values":[0,100,200,300],"title":"Time (s)","labelPadding":12,"titlePadding":4,"labelFlush":false}},
"y":{"field":"v","type":"quantitative","scale":{"domain":[1.27,5.73],"nice":false,"zero":false},"axis":{"values":[2,3,4,5],"title":null,"labelPadding":10}},
"color":{"field":"a","type":"nominal","scale":{"domain":[1,2,3,4,5,6],"range":["#0000ff","#1a8cff","#00ffff","#7dfa7d","#ffff00","#ff8000"]},
"legend":{"title":null,"orient":"none","legendX":296,"legendY":267,"columns":2,"symbolType":"stroke","symbolSize":441,"symbolStrokeWidth":2,"labelFont":"Liberation Serif","labelFontStyle":"italic","labelFontSize":22,"labelColor":"#000000","labelOffset":3,"labelExpr":"'Agent' + ['','₁','₂','₃','₄','₅','₆'][datum.value]","strokeColor":"#333333","fillColor":"white","padding":3,"rowPadding":5,"columnPadding":4}}
}
},
{
"width":488,"height":357,
"data":{"name":"B"},
"title":{"text":["(b) Consensus in Simulation B2 with the proposed","approach"],"orient":"bottom","anchor":"start","frame":"group","dx":-34,"offset":16,"lineHeight":32},
"mark":{"type":"line","strokeWidth":2,"clip":true,"interpolate":"monotone"},
"encoding":{
"x":{"field":"t","type":"quantitative","scale":{"domain":[0,300],"nice":false},"axis":{"values":[0,100,200,300],"title":"Time (s)","labelPadding":12,"titlePadding":2,"labelFlush":false}},
"y":{"field":"v","type":"quantitative","scale":{"domain":[-3.67,1.84],"nice":false,"zero":false},"axis":{"values":[-3,-2,-1,0,1],"title":null,"labelPadding":10,"labelExpr":"'' + datum.value"}},
"color":{"field":"a","type":"nominal","scale":{"domain":[1,2,3,4,5,6],"range":["#0000ff","#1a8cff","#00ffff","#7dfa7d","#ffff00","#ff8000"]},
"legend":{"title":null,"orient":"none","legendX":291,"legendY":13,"columns":2,"symbolType":"stroke","symbolSize":441,"symbolStrokeWidth":2,"labelFont":"Liberation Serif","labelFontStyle":"italic","labelFontSize":22,"labelColor":"#000000","labelOffset":3,"labelExpr":"'Agent' + ['','₁','₂','₃','₄','₅','₆'][datum.value]","strokeColor":"#333333","fillColor":"white","padding":3,"rowPadding":5,"columnPadding":4}}
}
}
]
}
